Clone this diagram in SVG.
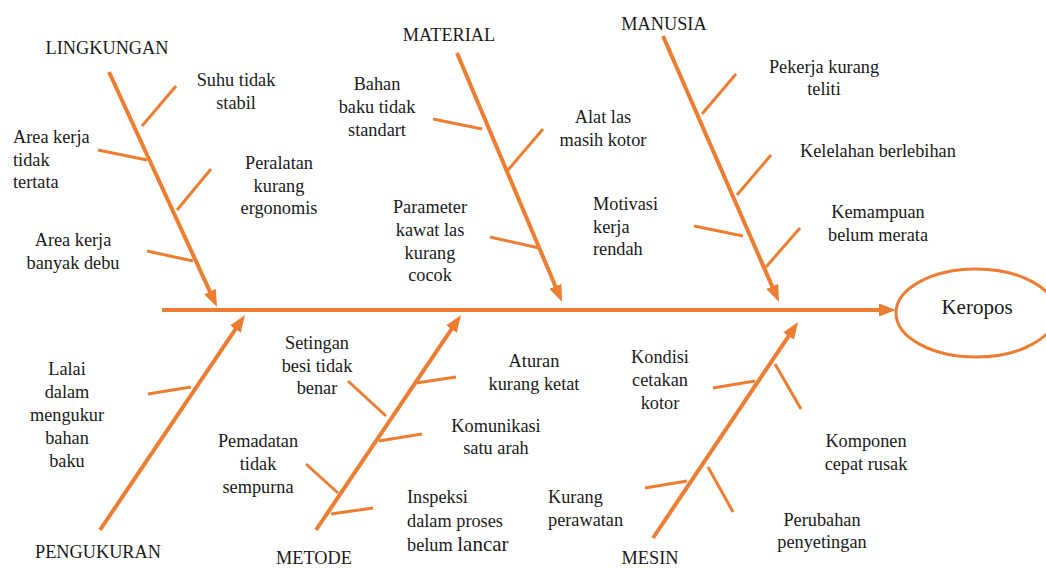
<svg xmlns="http://www.w3.org/2000/svg" width="1046" height="568" viewBox="0 0 1046 568" font-family="'Liberation Serif', 'Times New Roman', 'DejaVu Serif', serif">
  <style>
    .bone { stroke: #ED7D31; stroke-width: 4; fill: none; marker-end: url(#arrow); }
    .br { stroke: #ED7D31; stroke-width: 3; fill: none; }
    text { font-family: 'Liberation Serif', 'Times New Roman', 'DejaVu Serif', serif; font-size: 18.3px; fill: #1a1a1a; }
    .m { text-anchor: middle; }
    .s { text-anchor: start; }
  </style>
  <defs>
    <marker id="arrow" viewBox="0 0 17 13" markerWidth="17" markerHeight="13" refX="4" refY="6.5" orient="auto" markerUnits="userSpaceOnUse">
      <path d="M0,0 L17,6.5 L0,13 z" fill="#ED7D31"/>
    </marker>
  </defs>
  <rect x="0" y="0" width="1046" height="568" fill="#ffffff"/>

  <g id="connectors">
    <line class="bone" x1="162" y1="310" x2="883" y2="310"/>
    <line class="bone" x1="109" y1="72" x2="211.6" y2="295.2"/>
    <line class="bone" x1="457" y1="53" x2="557" y2="290"/>
    <line class="bone" x1="663" y1="36" x2="773.8" y2="290.1"/>
    <line class="bone" x1="100" y1="530" x2="237.7" y2="325.8"/>
    <line class="bone" x1="316" y1="530" x2="453.7" y2="325.8"/>
    <line class="bone" x1="653" y1="538" x2="790.8" y2="332.8"/>
    <line class="br" x1="142" y1="126" x2="176" y2="86"/>
    <line class="br" x1="98" y1="150" x2="147" y2="160"/>
    <line class="br" x1="177" y1="210" x2="211" y2="169"/>
    <line class="br" x1="147" y1="251" x2="193" y2="261"/>
    <line class="br" x1="433" y1="119" x2="482" y2="129"/>
    <line class="br" x1="508" y1="170" x2="543" y2="129"/>
    <line class="br" x1="490" y1="237" x2="539" y2="248"/>
    <line class="br" x1="702" y1="114" x2="736" y2="74"/>
    <line class="br" x1="737" y1="195" x2="771" y2="155"/>
    <line class="br" x1="694" y1="226" x2="743" y2="236"/>
    <line class="br" x1="766" y1="267" x2="800" y2="228"/>
    <line class="br" x1="148" y1="394" x2="191" y2="387"/>
    <line class="br" x1="348" y1="381" x2="386" y2="416"/>
    <line class="br" x1="416" y1="383" x2="456" y2="377"/>
    <line class="br" x1="379" y1="441" x2="422" y2="434"/>
    <line class="br" x1="306" y1="464" x2="338" y2="493"/>
    <line class="br" x1="331" y1="514" x2="373" y2="508"/>
    <line class="br" x1="713" y1="388" x2="755" y2="381"/>
    <line class="br" x1="775" y1="364" x2="801" y2="409"/>
    <line class="br" x1="645" y1="488" x2="687" y2="481"/>
    <line class="br" x1="708" y1="467" x2="733" y2="512"/>
  </g>

  <g id="head">
    <ellipse cx="976" cy="313" rx="80" ry="44" fill="#ffffff" stroke="#ED7D31" stroke-width="3"/>
    <text class="m" x="977" y="314" style="font-size:21px">Keropos</text>
  </g>

  <g id="lingkungan">
    <text class="m" x="107" y="54">LINGKUNGAN</text>
    <text class="m" x="236" y="86">Suhu tidak</text>
    <text class="m" x="236" y="109">stabil</text>
    <text class="s" x="13" y="143">Area kerja</text>
    <text class="s" x="13" y="166">tidak</text>
    <text class="s" x="13" y="188">tertata</text>
    <text class="m" x="279" y="169">Peralatan</text>
    <text class="m" x="279" y="192">kurang</text>
    <text class="m" x="279" y="214">ergonomis</text>
    <text class="m" x="73" y="246">Area kerja</text>
    <text class="m" x="73" y="269">banyak debu</text>
  </g>

  <g id="material">
    <text class="m" x="449" y="41">MATERIAL</text>
    <text class="m" x="377" y="90">Bahan</text>
    <text class="m" x="377" y="113">baku tidak</text>
    <text class="m" x="377" y="136">standart</text>
    <text class="m" x="603" y="123">Alat las</text>
    <text class="m" x="603" y="146">masih kotor</text>
    <text class="m" x="430" y="213">Parameter</text>
    <text class="m" x="430" y="236">kawat las</text>
    <text class="m" x="430" y="259">kurang</text>
    <text class="m" x="430" y="281">cocok</text>
  </g>

  <g id="manusia">
    <text class="m" x="664" y="30">MANUSIA</text>
    <text class="m" x="824" y="73">Pekerja kurang</text>
    <text class="m" x="824" y="95">teliti</text>
    <text class="s" x="800" y="157">Kelelahan berlebihan</text>
    <text class="s" x="593" y="210">Motivasi</text>
    <text class="s" x="593" y="233">kerja</text>
    <text class="s" x="593" y="255">rendah</text>
    <text class="m" x="878" y="218">Kemampuan</text>
    <text class="m" x="878" y="241">belum merata</text>
  </g>

  <g id="pengukuran">
    <text class="m" x="67" y="375">Lalai</text>
    <text class="m" x="67" y="398">dalam</text>
    <text class="m" x="67" y="421">mengukur</text>
    <text class="m" x="67" y="444">bahan</text>
    <text class="m" x="67" y="467">baku</text>
    <text class="m" x="98" y="558">PENGUKURAN</text>
  </g>

  <g id="metode">
    <text class="m" x="317" y="349">Setingan</text>
    <text class="m" x="317" y="372">besi tidak</text>
    <text class="m" x="317" y="394">benar</text>
    <text class="m" x="258" y="447">Pemadatan</text>
    <text class="m" x="258" y="470">tidak</text>
    <text class="m" x="258" y="493">sempurna</text>
    <text class="m" x="534" y="367">Aturan</text>
    <text class="m" x="534" y="390">kurang ketat</text>
    <text class="m" x="496" y="432">Komunikasi</text>
    <text class="m" x="496" y="454">satu arah</text>
    <text class="s" x="407" y="503">Inspeksi</text>
    <text class="s" x="407" y="527">dalam proses</text>
    <text class="s" x="407" y="551">belum <tspan style="font-size:21px">lancar</tspan></text>
    <text class="m" x="314" y="564">METODE</text>
  </g>

  <g id="mesin">
    <text class="m" x="660" y="363">Kondisi</text>
    <text class="m" x="660" y="386">cetakan</text>
    <text class="m" x="660" y="409">kotor</text>
    <text class="s" x="548" y="503">Kurang</text>
    <text class="s" x="548" y="526">perawatan</text>
    <text class="m" x="866" y="447">Komponen</text>
    <text class="m" x="866" y="470">cepat rusak</text>
    <text class="m" x="822" y="526">Perubahan</text>
    <text class="m" x="822" y="548">penyetingan</text>
    <text class="m" x="650" y="564">MESIN</text>
  </g>
</svg>
